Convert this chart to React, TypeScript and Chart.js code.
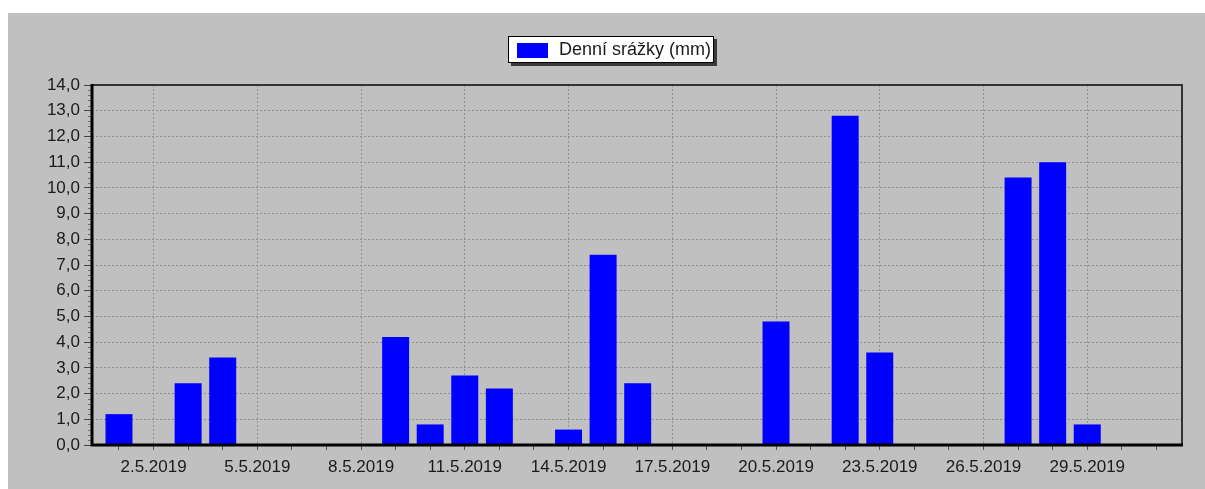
import React, { useEffect, useRef } from 'react';
import { Chart, registerables } from 'chart.js';

Chart.register(...registerables);

const days = [1, 2, 3, 4, 5, 6, 7, 8, 9, 10, 11, 12, 13, 14, 15, 16, 17, 18, 19, 20, 21, 22, 23, 24, 25, 26, 27, 28, 29, 30, 31];
const rainfall = [1.2, 0, 2.4, 3.4, 0, 0, 0, 0, 4.2, 0.8, 2.7, 2.2, 0, 0.6, 7.4, 2.4, 0, 0, 0, 4.8, 0, 12.8, 3.6, 0, 0, 0, 10.4, 11.0, 0.8, 0, 0];
const xLabelDays = [2, 5, 8, 11, 14, 17, 20, 23, 26, 29];
const xTickLabels = ['2.5.2019', '5.5.2019', '8.5.2019', '11.5.2019', '14.5.2019', '17.5.2019', '20.5.2019', '23.5.2019', '26.5.2019', '29.5.2019'];
const yTickLabels = ['0,0', '1,0', '2,0', '3,0', '4,0', '5,0', '6,0', '7,0', '8,0', '9,0', '10,0', '11,0', '12,0', '13,0', '14,0'];
const seriesLabel = 'Denní srážky (mm)';

const FONT_FAMILY = '"Liberation Sans", Arial, sans-serif';
const TEXT_COLOR = '#1a1a1a';
const GRID_COLOR = '#8e8e8e';

const framePlugin = {
  id: 'frameAndMinorTicks',
  afterDatasetsDraw(chart: any) {
    const { ctx, chartArea, scales } = chart;
    const { left, right, top, bottom } = chartArea;
    const y = scales.y;
    ctx.save();
    ctx.strokeStyle = '#707070';
    ctx.lineWidth = 1;
    for (let v = y.min; v < y.max; v++) {
      for (let k = 1; k < 5; k++) {
        const py = Math.round(y.getPixelForValue(v + k / 5)) + 0.5;
        ctx.beginPath();
        ctx.moveTo(left - 4, py);
        ctx.lineTo(left, py);
        ctx.stroke();
      }
    }
    ctx.strokeStyle = '#333333';
    ctx.lineWidth = 2;
    ctx.beginPath();
    ctx.moveTo(left, top);
    ctx.lineTo(right, top);
    ctx.lineTo(right, bottom);
    ctx.stroke();
    ctx.strokeStyle = '#000000';
    ctx.lineWidth = 3;
    ctx.beginPath();
    ctx.moveTo(left, top - 1);
    ctx.lineTo(left, bottom);
    ctx.lineTo(right + 1, bottom);
    ctx.stroke();
    ctx.restore();
  },
};

const boxLegendPlugin = {
  id: 'boxLegend',
  afterDraw(chart: any) {
    const ctx = chart.ctx;
    const ds = chart.data.datasets[0];
    ctx.save();
    ctx.font = `18px ${FONT_FAMILY}`;
    const tw = ctx.measureText(ds.label).width;
    const w = Math.round(9 + 31 + 11 + tw + 3);
    const h = 27;
    const x = Math.round((chart.width - w) / 2 + 4);
    const yTop = 23;
    ctx.fillStyle = '#3a3a3a';
    ctx.fillRect(x + 3, yTop + 3, w, h);
    ctx.fillStyle = '#ffffff';
    ctx.fillRect(x, yTop, w, h);
    ctx.strokeStyle = '#000000';
    ctx.lineWidth = 1;
    ctx.strokeRect(x + 0.5, yTop + 0.5, w - 1, h - 1);
    ctx.fillStyle = ds.backgroundColor;
    ctx.fillRect(x + 9, yTop + 7, 31, 15);
    ctx.fillStyle = TEXT_COLOR;
    ctx.textBaseline = 'middle';
    ctx.textAlign = 'left';
    ctx.fillText(ds.label, x + 51, yTop + h / 2 + 1);
    ctx.restore();
  },
};

export default function App() {
  const canvasRef = useRef<HTMLCanvasElement | null>(null);

  useEffect(() => {
    const canvas = canvasRef.current;
    if (!canvas) return;
    const chart = new Chart(canvas, {
      type: 'bar',
      data: {
        datasets: [
          {
            label: seriesLabel,
            data: days.map((d, i) => ({ x: d, y: rainfall[i] })),
            backgroundColor: '#0000ff',
            borderWidth: 0,
            barPercentage: 0.78,
            categoryPercentage: 1,
          },
        ],
      },
      options: {
        animation: false,
        responsive: false,
        devicePixelRatio: 1,
        layout: { padding: { top: 72, left: 0, right: 23, bottom: 0 } },
        plugins: {
          legend: { display: false },
          tooltip: { enabled: false },
          title: { display: false },
        },
        scales: {
          x: {
            type: 'linear',
            min: 0.22,
            max: 31.74,
            offset: false,
            afterBuildTicks: (s: any) => {
              s.ticks = days.map((d) => ({ value: d }));
            },
            afterFit: (s: any) => {
              s.height = 44;
            },
            grid: {
              offset: false,
              color: (c: any) => (c.tick && xLabelDays.includes(c.tick.value) ? GRID_COLOR : 'rgba(0,0,0,0)'),
              tickColor: '#555555',
              tickLength: 5,
              lineWidth: 1,
            },
            border: { display: false, dash: [2, 2] },
            ticks: {
              autoSkip: false,
              maxRotation: 0,
              minRotation: 0,
              padding: 7,
              color: TEXT_COLOR,
              font: { family: FONT_FAMILY, size: 17 },
              callback: (v: any) => {
                const i = xLabelDays.indexOf(Number(v));
                return i >= 0 ? xTickLabels[i] : '';
              },
            },
          },
          y: {
            type: 'linear',
            min: 0,
            max: 14,
            afterFit: (s: any) => {
              s.width = 84;
            },
            grid: {
              color: GRID_COLOR,
              tickColor: '#444444',
              tickLength: 8,
              lineWidth: 1,
            },
            border: { display: false, dash: [2, 2] },
            ticks: {
              stepSize: 1,
              padding: 4,
              color: TEXT_COLOR,
              font: { family: FONT_FAMILY, size: 17 },
              callback: (v: any) => yTickLabels[Math.round(Number(v))] ?? '',
            },
          },
        },
      },
      plugins: [framePlugin, boxLegendPlugin],
    } as any);
    return () => chart.destroy();
  }, []);

  return (
    <div
      style={{
        position: 'absolute',
        left: 8,
        top: 13,
        width: 1197,
        height: 476,
        background: '#c0c0c0',
      }}
    >
      <canvas ref={canvasRef} width={1197} height={476} style={{ display: 'block', width: 1197, height: 476 }} />
    </div>
  );
}
